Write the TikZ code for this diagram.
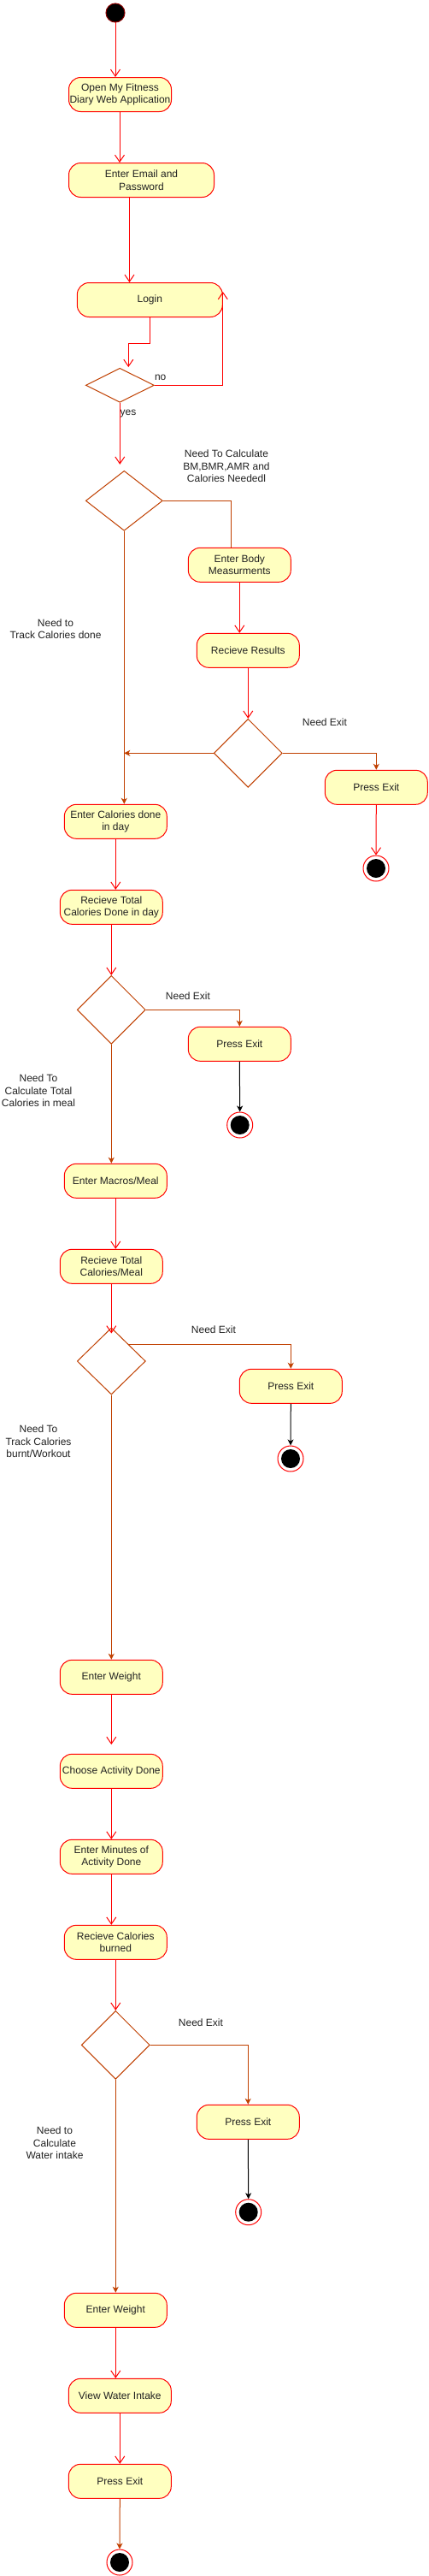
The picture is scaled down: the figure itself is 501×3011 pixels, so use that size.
\documentclass[tikz,border=0pt]{standalone}
\usepackage{fontspec}
\setmainfont{Liberation Sans}
\usetikzlibrary{arrows.meta,shapes.geometric}
\definecolor{boxfill}{HTML}{FFFFC0}
\definecolor{boxline}{HTML}{FF0000}
\definecolor{brn}{HTML}{C04000}
\definecolor{txt}{HTML}{222222}
\begin{document}
\begin{tikzpicture}[x=1pt,y=-1pt,
  every node/.style={font=\fontsize{12}{14.5}\selectfont, text=txt},
  act/.style={rectangle, rounded corners=14pt, draw=boxline, fill=boxfill,
    minimum height=40pt, minimum width=#1, inner sep=0pt, align=center, line width=1pt},
  act/.default=120pt,
  dec/.style 2 args={diamond, draw=brn, fill=white, minimum width=#1, minimum height=#2,
    inner sep=0pt, line width=1pt},
  lbl/.style={align=center, inner sep=0pt},
  finalnode/.style={circle, draw=boxline, fill=white, minimum size=30pt, inner sep=0pt, line width=1pt,
    path picture={\fill[black] (path picture bounding box.center) circle (11pt);}},
  openarr/.style={draw=boxline, line width=1pt, -{Straight Barb[length=8pt,width=11pt]}},
  fillarr/.style={draw=brn, line width=1pt, -{Stealth[length=7pt,width=7pt,inset=2pt]}},
  blkarr/.style={draw=black, line width=1pt, -{Stealth[length=7pt,width=7pt,inset=2pt]}},
  plain/.style={draw=brn, line width=1pt}
]
\useasboundingbox (0,0) rectangle (501,3011);
\fill[white] (0,0) rectangle (501,3011);

% nodes
\node[circle, fill=black, draw=red!55!black, line width=1pt, minimum size=22pt, inner sep=0pt] (start) at (135,15) {};
\node[act] (open) at (140.5,110.5) {Open My Fitness\\Diary Web Application};
\node[act=170pt] (email) at (165.5,210.5) {Enter Email and\\Password};
\node[act=170pt] (login) at (175.3,350.5) {Login};
\node[dec={80pt}{40pt}] (d1) at (140.3,450.3) {};
\node[dec={90pt}{70pt}] (d2) at (145.3,585.3) {};
\node[act] (body) at (280.3,660.3) {Enter Body\\Measurments};
\node[act] (res) at (290.3,760.3) {Recieve Results};
\node[dec={80pt}{80pt}] (d3) at (290.3,880.3) {};
\node[act] (pe1) at (440.3,920.3) {Press Exit};
\node[act] (cal) at (135.3,960.3) {Enter Calories done\\in day};
\node[finalnode] (f1) at (440,1015) {};
\node[act] (rtot) at (130.3,1060.3) {Recieve Total\\Calories Done in day};
\node[dec={80pt}{80pt}] (d4) at (130.3,1180.3) {};
\node[act] (pe2) at (280.3,1220.3) {Press Exit};
\node[finalnode] (f2) at (280.7,1315) {};
\node[act] (mac) at (135.3,1380.3) {Enter Macros/Meal};
\node[act] (rmeal) at (130.3,1480.3) {Recieve Total\\Calories/Meal};
\node[dec={80pt}{78pt}] (d5) at (130.3,1591) {};
\node[act] (pe3) at (340.3,1620.3) {Press Exit};
\node[finalnode] (f3) at (340,1705) {};
\node[act] (w1) at (130.3,1960.3) {Enter Weight};
\node[act] (choose) at (130.3,2070.3) {Choose Activity Done};
\node[act] (minutes) at (130.3,2170.3) {Enter Minutes of\\Activity Done};
\node[act] (rburn) at (135.3,2270.3) {Recieve Calories\\burned};
\node[dec={80pt}{80pt}] (d6) at (135.3,2390.3) {};
\node[act] (pe4) at (290.3,2480.3) {Press Exit};
\node[finalnode] (f4) at (290.7,2585.7) {};
\node[act] (w2) at (135.3,2700.3) {Enter Weight};
\node[act] (view) at (140.3,2800.3) {View Water Intake};
\node[act] (pe5) at (140.3,2900.3) {Press Exit};
\node[finalnode] (f5) at (140,2995) {};

% labels
\node[lbl] (lno) at (187.7,441.7) {no};
\node[lbl] (lyes) at (150,483.3) {yes};
\node[lbl] (lbm) at (265,545) {Need To Calculate\\BM,BMR,AMR and\\Calories Neededl};
\node[lbl] (ltrack) at (65,735) {Need to\\Track Calories done};
\node[lbl] (lex1) at (380,844.3) {Need Exit};
\node[lbl] (lex2) at (220,1164.3) {Need Exit};
\node[lbl] (lmeal) at (45,1274.7) {Need To\\Calculate Total\\Calories in meal};
\node[lbl] (lex3) at (250,1554.3) {Need Exit};
\node[lbl] (lburn) at (45,1684.7) {Need To\\Track Calories\\burnt/Workout};
\node[lbl] (lex4) at (235,2364.3) {Need Exit};
\node[lbl] (lwater) at (64,2505) {Need to\\Calculate\\Water intake};

% connectors
\draw[openarr] (start.south) -- (start.south |- open.north);
\draw[openarr] ([xshift=-0.5pt]open.south) -- ([xshift=-0.5pt]open.south |- email.north);
\draw[openarr] ([xshift=-14pt]email.south) -- ([xshift=-14pt]email.south |- login.north);
\draw[openarr] (login.south) -- ++(0,30) -| ([xshift=10pt,yshift=0.7pt]d1.north);
\draw[openarr] (d1.east) -| ([yshift=9.5pt]login.east);
\draw[openarr] (d1.south) -- ([yshift=7pt]d1.south |- d2.north);
\draw[plain] (d2.east) -| ([xshift=-10pt]body.north);
\draw[fillarr] (d2.south) -- (d2.south |- cal.north);
\draw[openarr] (body.south) -- (body.south |- res.north);
\draw[openarr] (res.south) -- (d3.north);
\draw[fillarr] (d3.east) -| (pe1.north);
\draw[fillarr] (d3.west) -- (d3.west -| d2.south);
\draw[openarr] (pe1.south) -- (f1.north);
\draw[openarr] (cal.south) -- (cal.south |- rtot.north);
\draw[openarr] (rtot.south) -- (d4.north);
\draw[fillarr] (d4.east) -| (pe2.north);
\draw[blkarr] (pe2.south) -- (f2.north);
\draw[fillarr] (d4.south) -- (d4.south |- mac.north);
\draw[openarr] (mac.south) -- (mac.south |- rmeal.north);
\draw[openarr] (rmeal.south) -- ([yshift=-7pt]d5.north);
\draw[fillarr] ([xshift=20pt,yshift=20pt]d5.center) -| (pe3.north);
\draw[blkarr] (pe3.south) -- (f3.north);
\draw[fillarr] (d5.south) -- (d5.south |- w1.north);
\draw[openarr] (w1.south) -- ([yshift=10.7pt]w1.south |- choose.north);
\draw[openarr] (choose.south) -- (minutes.north);
\draw[openarr] (minutes.south) -- (minutes.south |- rburn.north);
\draw[openarr] (rburn.south) -- (d6.north);
\draw[fillarr] (d6.east) -| (pe4.north);
\draw[blkarr] (pe4.south) -- (f4.north);
\draw[fillarr] (d6.south) -- (d6.south |- w2.north);
\draw[openarr] (w2.south) -- (w2.south |- view.north);
\draw[openarr] (view.south) -- (pe5.north);
\draw[fillarr] (pe5.south) -- (f5.north);
\end{tikzpicture}
\end{document}
